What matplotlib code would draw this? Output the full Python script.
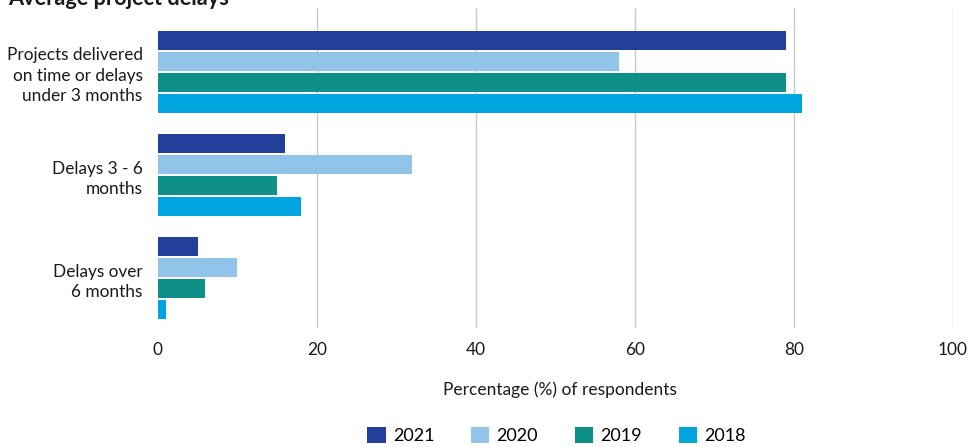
import matplotlib.pyplot as plt
from matplotlib.patches import Patch

plt.rcParams['font.family'] = ['Lato', 'DejaVu Sans']

categories = ['Projects delivered\non time or delays\nunder 3 months',
              'Delays 3 - 6\nmonths',
              'Delays over\n6 months']
years = ['2021', '2020', '2019', '2018']
values = {
    '2021': [79, 16, 5],
    '2020': [58, 32, 10],
    '2019': [79, 15, 6],
    '2018': [81, 18, 1],
}
colors = ['#22409a', '#92c4ea', '#0e8f87', '#00a5df']
x_ticks = [0, 20, 40, 60, 80, 100]

fig = plt.figure(figsize=(9.68, 4.47), dpi=100)
ax = fig.add_axes([0.163, 0.266, 0.8215, 0.716])

pitch = 0.204
height = 0.184
for i, (yr, c) in enumerate(zip(years, colors)):
    offs = (i - 1.5) * pitch
    ax.barh([g + offs for g in range(len(categories))], values[yr],
            height=height, color=c, label=yr, zorder=3)

ax.set_xlim(0, 100)
ax.set_ylim(2.486, -0.621)
ax.set_xticks(x_ticks)
ax.set_yticks(range(len(categories)))
ax.set_yticklabels(categories, fontsize=12.4, linespacing=1.35, color='#1a1a1a')
ax.tick_params(axis='x', length=0, pad=10, labelsize=12.4, labelcolor='#1a1a1a')
ax.tick_params(axis='y', length=0, pad=11)
for xv in x_ticks[1:]:
    ax.axvline(xv, color='#c8c8c8', linewidth=1, zorder=1)
for s in ax.spines.values():
    s.set_visible(False)

ax.set_xlabel('Percentage (%) of respondents', fontsize=12.5, color='#1a1a1a')
ax.xaxis.set_label_coords(0.506, -0.168)

fig.text(8 / 968, 1 - 5 / 447, 'Average project delays', fontsize=15.7,
         fontweight='bold', va='baseline', ha='left', color='#1a1a1a')

handles = [Patch(facecolor=c, edgecolor='none') for c in colors]
fig.legend(handles, years, loc='center', bbox_to_anchor=(0.575, 0.025),
           ncol=4, frameon=False, fontsize=13, handlelength=1.0,
           handleheight=1.0, columnspacing=2.05, handletextpad=0.4)

fig.savefig('out.png', dpi=100)
